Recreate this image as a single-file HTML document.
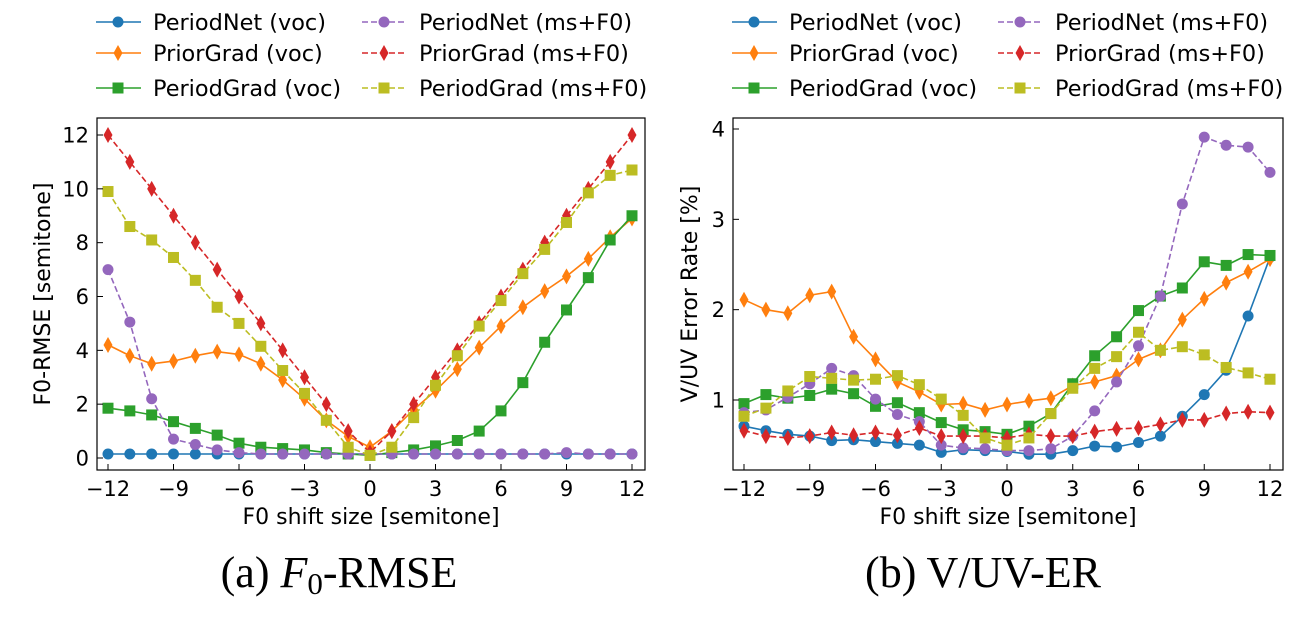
<!DOCTYPE html>
<html><head><meta charset="utf-8"><style>
body{margin:0;background:#fff;}
svg text{font-family:"DejaVu Sans","Liberation Sans",sans-serif;}
</style></head><body>
<svg id="chart" width="1308" height="620" xmlns="http://www.w3.org/2000/svg"></svg>
<script>
const shifts=[-12,-11,-10,-9,-8,-7,-6,-5,-4,-3,-2,-1,0,1,2,3,4,5,6,7,8,9,10,11,12];
const xTicks=[-12,-9,-6,-3,0,3,6,9,12];
const rmseTicks=[0,2,4,6,8,10,12];
const vuvTicks=[1,2,3,4];
const seriesNames=["PeriodNet (voc)","PriorGrad (voc)","PeriodGrad (voc)","PeriodNet (ms+F0)","PriorGrad (ms+F0)","PeriodGrad (ms+F0)"];
const rmsePeriodNetVoc=[0.15,0.15,0.15,0.15,0.15,0.15,0.15,0.15,0.15,0.15,0.15,0.15,0.15,0.15,0.15,0.15,0.15,0.15,0.15,0.15,0.15,0.15,0.15,0.15,0.15];
const rmsePriorGradVoc=[4.2,3.8,3.5,3.6,3.8,3.95,3.85,3.5,2.9,2.2,1.4,0.8,0.4,1.0,1.8,2.5,3.3,4.1,4.9,5.6,6.2,6.75,7.4,8.2,8.9];
const rmsePeriodGradVoc=[1.85,1.75,1.6,1.35,1.1,0.85,0.55,0.4,0.35,0.3,0.2,0.15,0.1,0.2,0.3,0.45,0.65,1.0,1.75,2.8,4.3,5.5,6.7,8.1,9.0];
const rmsePeriodNetMs=[7.0,5.05,2.2,0.7,0.5,0.3,0.2,0.15,0.15,0.15,0.15,0.15,0.15,0.15,0.15,0.15,0.15,0.15,0.15,0.15,0.15,0.2,0.15,0.15,0.15];
const rmsePriorGradMs=[12,11,10,9,8,7,6,5,4,3,2,1,0.2,1,2,3,4,5,6,7,8,9,10,11,12];
const rmsePeriodGradMs=[9.9,8.6,8.1,7.45,6.6,5.6,5.0,4.15,3.25,2.4,1.4,0.4,0.1,0.4,1.5,2.7,3.8,4.9,5.85,6.85,7.75,8.75,9.85,10.5,10.7];
const vuvPeriodNetVoc=[0.71,0.66,0.62,0.60,0.55,0.56,0.54,0.52,0.50,0.42,0.45,0.44,0.43,0.40,0.40,0.44,0.49,0.48,0.53,0.60,0.82,1.06,1.33,1.93,2.58];
const vuvPriorGradVoc=[2.11,2.00,1.96,2.16,2.20,1.70,1.45,1.20,1.09,0.95,0.96,0.89,0.95,0.99,1.02,1.16,1.20,1.27,1.45,1.55,1.89,2.12,2.30,2.42,2.56];
const vuvPeriodGradVoc=[0.96,1.06,1.02,1.05,1.12,1.07,0.93,0.97,0.86,0.75,0.67,0.65,0.62,0.71,0.85,1.18,1.49,1.70,1.99,2.15,2.24,2.53,2.49,2.61,2.60];
const vuvPeriodNetMs=[0.86,0.89,1.03,1.18,1.35,1.27,1.01,0.84,0.76,0.50,0.47,0.46,0.44,0.44,0.46,0.60,0.88,1.20,1.60,2.15,3.17,3.91,3.82,3.80,3.52];
const vuvPriorGradMs=[0.66,0.60,0.58,0.60,0.64,0.61,0.64,0.61,0.69,0.60,0.60,0.60,0.58,0.62,0.60,0.60,0.65,0.68,0.69,0.73,0.78,0.78,0.85,0.87,0.86];
const vuvPeriodGradMs=[0.82,0.91,1.10,1.26,1.24,1.22,1.23,1.27,1.17,1.01,0.83,0.58,0.50,0.58,0.85,1.13,1.35,1.48,1.75,1.55,1.59,1.50,1.36,1.30,1.23];

const NS="http://www.w3.org/2000/svg";
const svg=document.getElementById('chart');
function mk(tag,attrs,parent){const e=document.createElementNS(NS,tag);for(const k in attrs)e.setAttribute(k,attrs[k]);(parent||svg).appendChild(e);return e;}
const styles=[
 {c:"#1f77b4",m:"circle",d:""},{c:"#ff7f0e",m:"diamond",d:""},{c:"#2ca02c",m:"square",d:""},
 {c:"#9467bd",m:"circle",d:"6,3"},{c:"#d62728",m:"diamond",d:"6,3"},{c:"#bcbd22",m:"square",d:"6,3"}];
function marker(g,m,x,y,c){
 let e;
 if(m==="circle")e=mk('circle',{cx:x,cy:y,r:5.5,fill:c},g);
 else if(m==="square")e=mk('rect',{x:x-5.5,y:y-5.5,width:11,height:11,fill:c},g);
 else e=mk('polygon',{points:`${x},${y-8} ${x+4.5},${y} ${x},${y+8} ${x-4.5},${y}`,fill:c},g);
 
 
}
function panel(o){
 const g=mk('g',{});
 
 
 const X=v=>o.x0+(v+12)/24*(o.x12-o.x0);
 const Y=v=>o.yA+(v-o.vA)/(o.vB-o.vA)*(o.yB-o.yA);
 o.data.forEach((arr,i)=>{
  const s=styles[i];
  const sg=mk('g',{},g);
  
  
  const pts=arr.map((v,j)=>X(shifts[j]).toFixed(1)+","+Y(v).toFixed(1)).join(" ");
  const pl=mk('polyline',{points:pts,fill:"none",stroke:s.c,"stroke-width":1.6,"stroke-dasharray":s.d},sg);
  
  
  arr.forEach((v,j)=>marker(sg,s.m,X(shifts[j]),Y(v),s.c));
 });
 const fr=mk('rect',{x:o.L,y:o.T,width:o.R-o.L,height:o.B-o.T,fill:"none",stroke:"#000","stroke-width":1.2},g);
 
 
 xTicks.forEach(t=>{
  const x=X(t);
  mk('line',{x1:x,x2:x,y1:o.B,y2:o.B-6,stroke:"#000","stroke-width":1},g);
  const tx=mk('text',{x:x,y:o.B+26,"font-size":21,"text-anchor":"middle"},g);
  tx.textContent=(t<0?"\u2212"+(-t):t);
  
  
 });
 o.yt.forEach(t=>{
  const y=Y(t);
  mk('line',{x1:o.L,x2:o.L+6,y1:y,y2:y,stroke:"#000","stroke-width":1},g);
  const tx=mk('text',{x:o.L-8,y:y+7.5,"font-size":21,"text-anchor":"end"},g);
  tx.textContent=t;
  
  
 });
 const xl=mk('text',{x:(o.L+o.R)/2,y:524,"font-size":22,"text-anchor":"middle"},g);
 xl.textContent="F0 shift size [semitone]";
 
 
 const yl=mk('text',{x:0,y:0,"font-size":22,"text-anchor":"middle",transform:`translate(${o.ylx},${(o.T+o.B)/2}) rotate(-90)`},g);
 yl.textContent=o.ylabel;
 
 
 const lg=mk('g',{},g);
 
 
 seriesNames.forEach((n,i)=>{
  const col=Math.floor(i/3),row=i%3;
  const lx=o.lx+(col?266:0), ly=[22,53,88][row];
  const s=styles[i];
  const eg=mk('g',{},lg);
  
  
  mk('line',{x1:lx,x2:lx+45,y1:ly,y2:ly,stroke:s.c,"stroke-width":1.6,"stroke-dasharray":s.d},eg);
  marker(eg,s.m,lx+22,ly,s.c);
  const t=mk('text',{x:lx+57,y:ly+8,"font-size":22.4},eg);
  t.textContent=n;
 });
}
panel({name:"f0-rmse-chart",L:97,R:645,T:118,B:470,x0:108,x12:632,yA:458,vA:0,yB:135,vB:12,yt:rmseTicks,
 data:[rmsePeriodNetVoc,rmsePriorGradVoc,rmsePeriodGradVoc,rmsePeriodNetMs,rmsePriorGradMs,rmsePeriodGradMs],
 ylabel:"F0-RMSE [semitone]",ylx:50,lx:96});
panel({name:"vuv-er-chart",L:733,R:1283,T:118,B:470,x0:744,x12:1270,yA:400,vA:1,yB:129,vB:4,yt:vuvTicks,
 data:[vuvPeriodNetVoc,vuvPriorGradVoc,vuvPeriodGradVoc,vuvPeriodNetMs,vuvPriorGradMs,vuvPeriodGradMs],
 ylabel:"V/UV Error Rate [%]",ylx:697,lx:732});
function cap(x,html,name){
 const t=mk('text',{x:x,y:587,"font-size":44,"text-anchor":"middle",style:'font-family:"Liberation Serif",serif'});
 t.innerHTML=html;
 
 
}
cap(339,'(a) <tspan font-style="italic">F</tspan><tspan font-size="31" dy="7">0</tspan><tspan dy="-7">-RMSE</tspan>','caption-a');
cap(983,'(b) V/UV-ER','caption-b');
</script>
</body></html>
